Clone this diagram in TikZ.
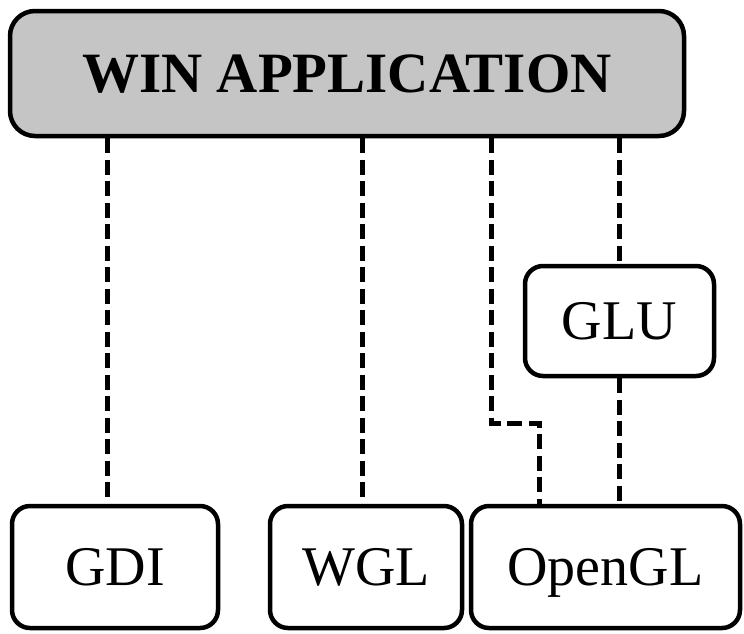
\documentclass[tikz,border=0pt]{standalone}
\usepackage{fontspec}
\setmainfont{Liberation Serif}
\definecolor{appgray}{RGB}{198,197,197}
\begin{document}
\begin{tikzpicture}[x=1pt,y=-1pt,
  box/.style={draw, line width=4.5pt, rounded corners=18pt, inner sep=0pt,
    text depth=0pt, font=\fontsize{56}{60}\selectfont},
  link/.style={line width=5pt, dash pattern=on 15pt off 6.5pt}]
  % canvas
  \fill[white] (0,0) rectangle (744,633);
  \useasboundingbox (0,0) rectangle (744,633);

  % boxes
  \node[box, fill=appgray, rounded corners=25pt, minimum width=674pt, minimum height=125pt,
    font=\bfseries\fontsize{57}{60}\selectfont] (app) at (347,73.5) {WIN APPLICATION};
  \node[box, minimum width=206pt, minimum height=122pt] (gdi) at (115,567) {GDI};
  \node[box, minimum width=192pt, minimum height=122pt] (wgl) at (366,567) {WGL};
  \node[box, minimum width=269pt, minimum height=122pt] (opengl) at (605.5,567) {OpenGL};
  \node[box, minimum width=189pt, minimum height=110pt] (glu) at (619.5,321) {GLU};

  % connector columns and bends
  \coordinate (c1) at (107,0);
  \coordinate (c2) at (362,0);
  \coordinate (k1) at (491,423);
  \coordinate (k2) at (539,423);
  \coordinate (c4) at (619,0);

  % dashed connectors
  \draw[link] (app.south -| c1) -- (gdi.north -| c1);
  \draw[link] (app.south -| c2) -- (wgl.north -| c2);
  \draw[link] (app.south -| k1) -- (k1) -- (k2) -- (opengl.north -| k2);
  \draw[link] (app.south -| c4) -- (glu.north -| c4);
  \draw[link] (glu.south -| c4) -- (opengl.north -| c4);
\end{tikzpicture}
\end{document}
